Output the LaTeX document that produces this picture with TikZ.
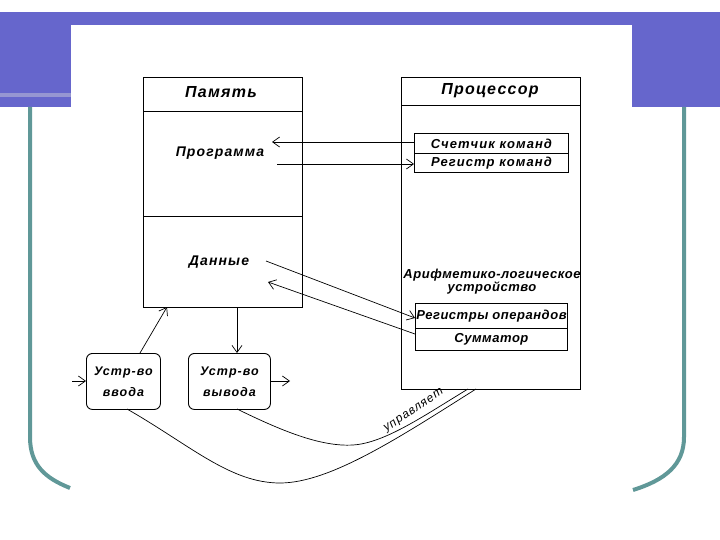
\documentclass[tikz,border=0pt]{standalone}
\usepackage{fontspec}
\setmainfont{Liberation Sans}
\newfontfamily\dfont[LetterSpace=8]{Liberation Sans}
\newfontfamily\sfontx[LetterSpace=4]{Liberation Sans}
\usetikzlibrary{arrows.meta}
\definecolor{band}{RGB}{102,102,204}
\definecolor{bandlight}{RGB}{150,150,210}
\definecolor{tealline}{RGB}{96,152,152}
\begin{document}
\begin{tikzpicture}[x=1pt,y=-1pt,
  box/.style={draw, line width=0.9pt, inner sep=0pt, anchor=north west},
  ttl/.style={font=\dfont\fontsize{16}{18}\selectfont\bfseries\itshape, inner sep=0pt},
  lbl/.style={font=\dfont\fontsize{14}{16}\selectfont\bfseries\itshape, inner sep=0pt},
  sml/.style={font=\sfontx\fontsize{13}{15}\selectfont\bfseries\itshape, inner sep=0pt},
  smw/.style={font=\dfont\fontsize{13}{15}\selectfont\bfseries\itshape, inner sep=0pt},
  dev/.style={font=\dfont\fontsize{12.5}{21}\selectfont\bfseries\itshape, inner sep=0pt, align=center},
  arr/.style={-{Straight Barb[length=7pt,width=10pt]}, line width=0.7pt},
  crv/.style={line width=0.7pt},
  frame/.style={tealline, line width=4pt}
]
\useasboundingbox (0,0) rectangle (720,540);
% background
\fill[band] (0,12) rectangle (720,107);
\fill[bandlight] (0,93) rectangle (71,97);
\fill[white] (71,25) rectangle (632,107);
\draw[frame] (30,107) -- (30,437) .. controls (30,465) and (45,478) .. (70,488);
\draw[frame] (684,107) -- (684,437) .. controls (684,465) and (665,480) .. (633,490);

% memory
\node[box, minimum width=159pt, minimum height=230pt] (mem) at (143,77) {};
\draw[line width=0.9pt] (143,111) -- (302,111);
\draw[line width=0.9pt] (143,216) -- (302,216);
\node[ttl] (memt) at (221,92) {Память};
\node[lbl] (prog) at (220,153) {Программа};
\node[lbl] (data) at (219,262) {Данные};

% processor
\node[box, minimum width=179pt, minimum height=312pt] (proc) at (401,77) {};
\draw[line width=0.9pt] (401,105) -- (580,105);
\node[ttl] (proct) at (490,91) {Процессор};
\node[box, minimum width=154pt, minimum height=20pt] (cnt) at (414,133) {};
\node[smw] at (cnt.center) {Счетчик команд};
\node[box, minimum width=154pt, minimum height=19pt] (reg) at (414,153) {};
\node[smw] at (reg.center) {Регистр команд};
\node[sml, align=center] (alu) at (492,282) {Арифметико-логическое\\[-2pt]устройство};
\node[box, minimum width=152pt, minimum height=25pt] (ops) at (415,303) {};
\node[sml] at (ops.center) {Регистры операндов};
\node[box, minimum width=152pt, minimum height=22pt] (sum) at (415,328) {};
\node[sml] at (sum.center) {Сумматор};

% devices
\node[box, rounded corners=6pt, minimum width=74pt, minimum height=56pt] (in) at (86,353) {};
\node[dev] at (in.center) {Устр-во\\ввода};
\node[box, rounded corners=6pt, minimum width=82pt, minimum height=56pt] (out) at (188,353) {};
\node[dev] at (out.center) {Устр-во\\вывода};

% connector points
\coordinate (progIn) at (272,142);
\coordinate (progOut) at (277,164);
\coordinate (dataOut) at (266,261);
\coordinate (dataIn) at (268,282);
\coordinate (opsIn) at (415,318);
\coordinate (sumOut) at (415,334);
\coordinate (inSrc) at (72,381);
\coordinate (inTop) at (140,353);
\coordinate (memIn) at (167,307);
\coordinate (memOut) at (237,307);
\coordinate (outDst) at (290,381);
\coordinate (inBot) at (127,409);
\coordinate (outBot) at (237,409);
\coordinate (procA) at (476,389);
\coordinate (procB) at (468,389);

\draw[arr] (cnt.west |- progIn) -- (progIn);
\draw[arr] (progOut) -- (progOut -| reg.west);
\draw[arr] (dataOut) -- (opsIn);
\draw[arr] (sumOut) -- (dataIn);
\draw[arr] (inSrc) -- (in.west |- inSrc);
\draw[arr] (inTop) -- (memIn);
\draw[arr] (memOut) -- (out.north -| memOut);
\draw[arr] (out.east |- outDst) -- (outDst);

\draw[crv] (inBot) .. controls (190,445) and (230,483) .. (280,483)
   .. controls (330,483) and (400,437) .. (procA);
\draw[crv] (outBot) .. controls (280,430) and (320,447) .. (353,445)
   .. controls (385,443) and (425,415) .. (procB);
\node[font=\dfont\fontsize{12}{14}\selectfont\itshape, rotate=34, inner sep=0pt] (ctl) at (414,411) {управляет};
\end{tikzpicture}
\end{document}
